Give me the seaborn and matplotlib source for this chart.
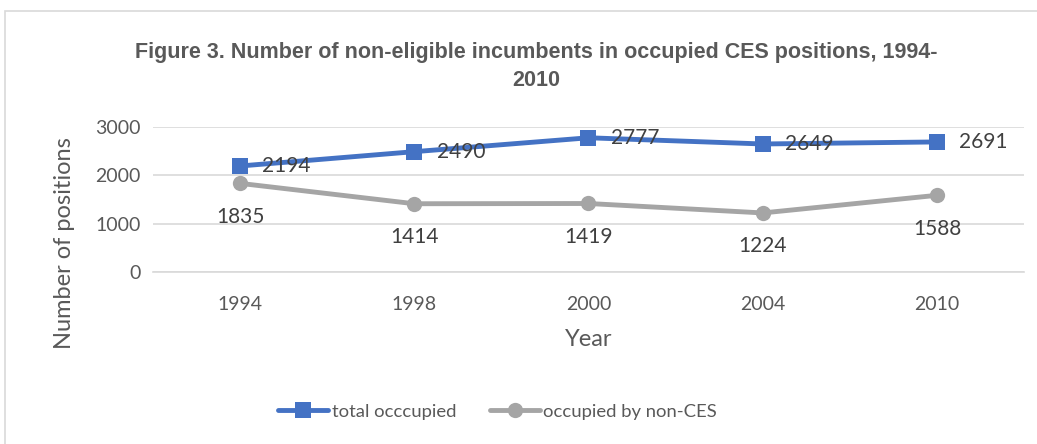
import matplotlib
matplotlib.use("Agg")
import matplotlib.pyplot as plt
import seaborn as sns
import pandas as pd
from matplotlib.patches import Rectangle

years = ["1994", "1998", "2000", "2004", "2010"]
total_occupied = [2194, 2490, 2777, 2649, 2691]
non_ces = [1835, 1414, 1419, 1224, 1588]
series_names = ["total occcupied", "occupied by non-CES"]

df = pd.DataFrame({
    "Year": years * 2,
    "value": total_occupied + non_ces,
    "series": [series_names[0]] * len(years) + [series_names[1]] * len(years),
})

sns.set_style("white")
plt.rcParams["font.family"] = ["Lato", "DejaVu Sans"]

text_c = "#595959"
grid_c = "#D9D9D9"
blue = "#4472C4"
gray = "#A5A5A5"

fig = plt.figure(figsize=(10.37, 4.44), dpi=100)
ax = fig.add_axes([0.1475, 0.387, 0.84, 0.327])

sns.lineplot(
    data=df, x="Year", y="value", hue="series", style="series",
    palette={series_names[0]: blue, series_names[1]: gray},
    markers={series_names[0]: "s", series_names[1]: "o"},
    dashes=False, linewidth=3.5, markersize=11, markeredgewidth=0,
    sort=False, ax=ax,
)

ax.set_xlim(-0.5, len(years) - 0.5)
ax.set_ylim(0, 3000)
ax.set_yticks([0, 1000, 2000, 3000])
ax.yaxis.grid(True, color=grid_c, linewidth=1.2)
ax.set_axisbelow(True)
for s in ["top", "right", "left"]:
    ax.spines[s].set_visible(False)
ax.spines["bottom"].set_color(grid_c)
ax.spines["bottom"].set_linewidth(1.2)
ax.tick_params(length=0, labelsize=14, labelcolor=text_c)
ax.tick_params(axis="x", pad=17)
ax.tick_params(axis="y", pad=9)

ax.set_xlabel("Year", fontsize=17, color=text_c, labelpad=12)
ax.set_ylabel("Number of positions", fontsize=17, color=text_c)
ax.yaxis.set_label_coords(-0.09, 0.2)

# data labels
for i, v in enumerate(total_occupied):
    ax.annotate(str(v), (i, v), xytext=(16, 0), textcoords="offset points",
                ha="left", va="center", fontsize=15, color="#404040")
for i, v in enumerate(non_ces):
    ax.annotate(str(v), (i, v), xytext=(0, -24), textcoords="offset points",
                ha="center", va="center", fontsize=15, color="#404040")

fig.text(0.517, 0.85, "Figure 3. Number of non-eligible incumbents in occupied CES positions, 1994-\n2010",
         ha="center", va="center", fontsize=15.5, fontweight="bold", color=text_c,
         family=["Liberation Sans", "DejaVu Sans"], linespacing=1.42)

handles, labels = ax.get_legend_handles_labels()
for h in handles:
    h.set_linewidth(3.5)
ax.legend(handles, labels, loc="center", bbox_to_anchor=(0.48, 0.073),
          bbox_transform=fig.transFigure, ncol=2, frameon=False, fontsize=13.3,
          handlelength=2.7, handletextpad=0.2, columnspacing=1.8,
          labelcolor=text_c)

fig.patches.append(Rectangle((0.005, -0.01), 1.0, 0.985, transform=fig.transFigure,
                             fill=False, edgecolor="#D9D9D9", linewidth=1.2))

fig.savefig("out.png", dpi=100)
